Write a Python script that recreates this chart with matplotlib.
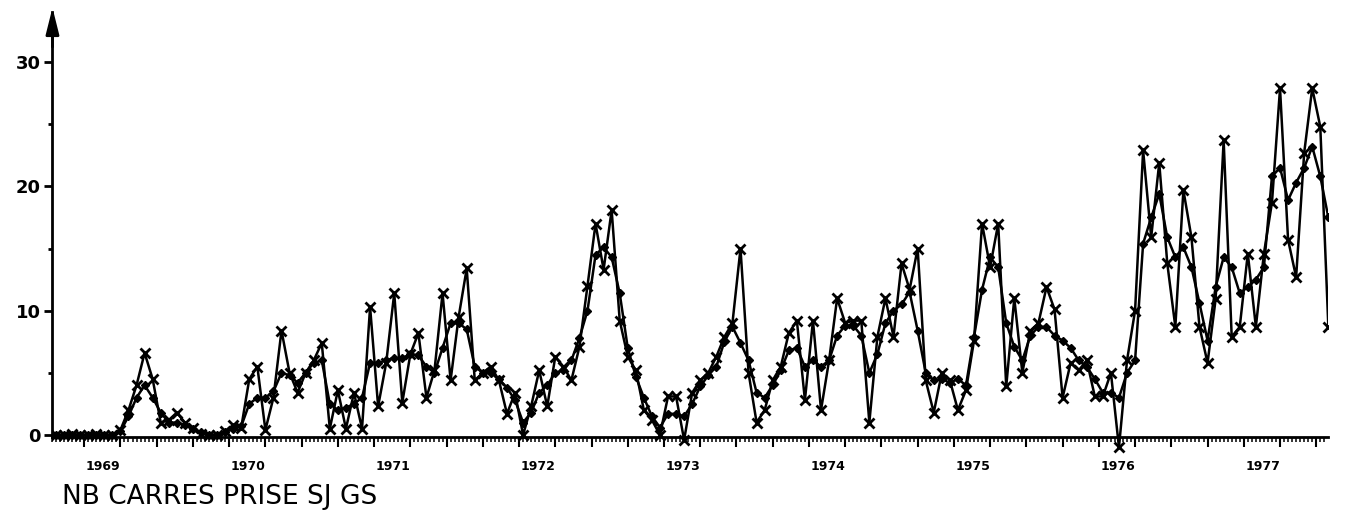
import matplotlib.pyplot as plt
import numpy as np

# one point every 2 "decades" (1/18 year), mid 1968 -> spring 1977
start_year = 1968.5
periods = start_year + np.arange(1, 160) / 18.0

# raw values (x markers)
prise_brute = [
    0, 0, 0.1, 0, 0, 0.1, 0, 0,
    0.4, 2.0, 4.0, 6.6, 4.5, 1.0, 1.2, 1.8,
    1.0, 0.6, 0.1, 0, 0, 0.3, 0.8, 0.6,
    4.5, 5.5, 0.4, 3.0, 8.4, 5.0, 3.4, 5.0,
    6.0, 7.4, 0.5, 3.6, 0.5, 3.4, 0.5, 10.3,
    2.3, 5.8, 11.4, 2.6, 6.5, 8.2, 3.0, 5.2,
    11.4, 4.4, 9.5, 13.4, 4.4, 5.0, 5.5, 4.4,
    1.7, 3.4, 0, 2.3, 5.2, 2.3, 6.3, 5.5,
    4.4, 7.1, 12.0, 17.0, 13.3, 18.1, 9.2, 6.3,
    5.2, 2.0, 1.2, 0, 3.1, 3.1, -0.4, 3.4,
    4.4, 5.0, 6.3, 7.9, 9.0, 15.0, 5.0, 1.0,
    2.0, 4.4, 5.5, 8.2, 9.2, 2.8, 9.2, 2.0,
    6.0, 11.0, 9.0, 9.2, 9.2, 1.0, 7.9, 11.0,
    7.9, 13.8, 11.7, 15.0, 4.4, 1.8, 5.0, 4.4,
    2.0, 3.6, 7.6, 17.0, 13.5, 17.0, 3.9, 11.0,
    5.0, 8.4, 9.0, 11.9, 10.1, 3.0, 5.8, 5.2,
    6.0, 3.1, 3.1, 5.0, -1.0, 6.0, 10.0, 22.9,
    15.9, 21.9, 13.8, 8.7, 19.7, 15.9, 8.7, 5.8,
    10.9, 23.7, 7.9, 8.7, 14.6, 8.7, 14.6, 18.7,
    27.9, 15.7, 12.7, 22.7, 27.9, 24.8, 8.7,
]

# smoothed values (diamonds)
prise_lissee = [
    0, 0, 0, 0, 0, 0, 0, 0,
    0.3, 1.5, 3.0, 4.0, 3.0, 1.8, 1.0, 1.0,
    0.8, 0.5, 0.2, 0, 0, 0.2, 0.5, 0.7,
    2.5, 3.0, 3.0, 3.5, 5.0, 4.8, 4.2, 5.0,
    5.8, 6.0, 2.5, 2.0, 2.2, 2.5, 3.0, 5.8,
    5.8, 6.0, 6.2, 6.2, 6.5, 6.4, 5.5, 5.0,
    7.0, 9.0, 9.0, 8.5, 5.5, 5.0, 5.0, 4.5,
    3.8, 2.8, 1.0, 1.8, 3.4, 4.0, 5.0, 5.2,
    6.0, 7.8, 10.0, 14.5, 15.1, 14.3, 11.4, 7.0,
    4.7, 3.0, 1.5, 0.6, 1.7, 1.7, 1.5, 2.5,
    3.9, 4.8, 5.5, 7.5, 8.7, 7.4, 6.0, 3.4,
    3.0, 4.0, 5.2, 6.8, 7.0, 5.5, 6.0, 5.5,
    6.0, 8.0, 8.8, 8.8, 8.0, 5.0, 6.5, 9.0,
    10.0, 10.5, 11.5, 8.4, 5.0, 4.4, 4.5, 4.2,
    4.5, 4.0, 7.9, 11.7, 14.3, 13.5, 9.0, 7.1,
    6.0, 8.0, 8.7, 8.7, 8.0, 7.6, 7.0, 6.0,
    5.5, 4.5, 3.4, 3.4, 3.0, 5.0, 6.0, 15.4,
    17.5, 19.4, 15.9, 14.3, 15.1, 13.5, 10.6, 7.6,
    11.9, 14.3, 13.5, 11.4, 11.9, 12.5, 13.5, 20.8,
    21.5, 18.9, 20.3, 21.5, 23.2, 20.8, 17.5,
]

years = [1969, 1970, 1971, 1972, 1973, 1974, 1975, 1976, 1977]
year_labels = ['1969', '1970', '1971', '1972', '1973', '1974', '1975', '1976', '1977']
y_ticks = [0, 10, 20, 30]
title = 'NB CARRES PRISE SJ GS'

fig = plt.figure(figsize=(13.48, 5.24), dpi=100)
ax = fig.add_axes([52 / 1348, 70.4 / 524, 1276 / 1348, 447.4 / 524])

ax.plot(periods, prise_lissee, color='black', lw=1.8, marker='D', markersize=4,
        markerfacecolor='black', markeredgecolor='black')
ax.plot(periods, prise_brute, color='black', lw=1.8, marker='x', markersize=7,
        markeredgewidth=2)

x0, x1 = 1968.531, 1977.331
ax.set_xlim(x0, x1)
ax.set_ylim(-1.5, 34.5)

for s in ['top', 'right']:
    ax.spines[s].set_visible(False)
ax.spines['bottom'].set_position(('data', -0.2))
ax.spines['bottom'].set_linewidth(2)
ax.spines['left'].set_linewidth(2)
ax.spines['left'].set_bounds(-0.2, 34)

# y axis arrow
ax.annotate('', xy=(x0, 34.6), xytext=(x0, 31.0),
            arrowprops=dict(arrowstyle='-|>,head_length=1.6,head_width=0.4',
                            color='black', lw=2, mutation_scale=10),
            annotation_clip=False)

# x ticks: quarters (major) and "decades" (minor)
ax.set_xticks(np.arange(1968.75, 1977.3, 0.25))
ax.set_xticks(np.arange(1968.5 + 1 / 36, 1977.33, 1 / 36), minor=True)
ax.set_xticklabels([])
ax.tick_params(axis='x', which='major', direction='out', length=7, width=1.5)
ax.tick_params(axis='x', which='minor', direction='out', length=3.5, width=1.1)

ax.set_yticks(y_ticks)
ax.set_yticks([5, 15, 25], minor=True)
ax.set_yticklabels([str(v) for v in y_ticks], fontsize=13, fontweight='bold')
ax.tick_params(axis='y', which='major', direction='out', length=6, width=2, pad=2)
ax.tick_params(axis='y', which='minor', direction='out', length=3, width=2)

for yr, lab in zip(years, year_labels):
    ax.text(yr, -0.028, lab, transform=ax.get_xaxis_transform(), ha='right',
            va='center', fontsize=9, fontweight='bold')

fig.text(62 / 1348, 1 - 497 / 524, title, ha='left', va='center', fontsize=19)

plt.savefig('out.png', dpi=100)
